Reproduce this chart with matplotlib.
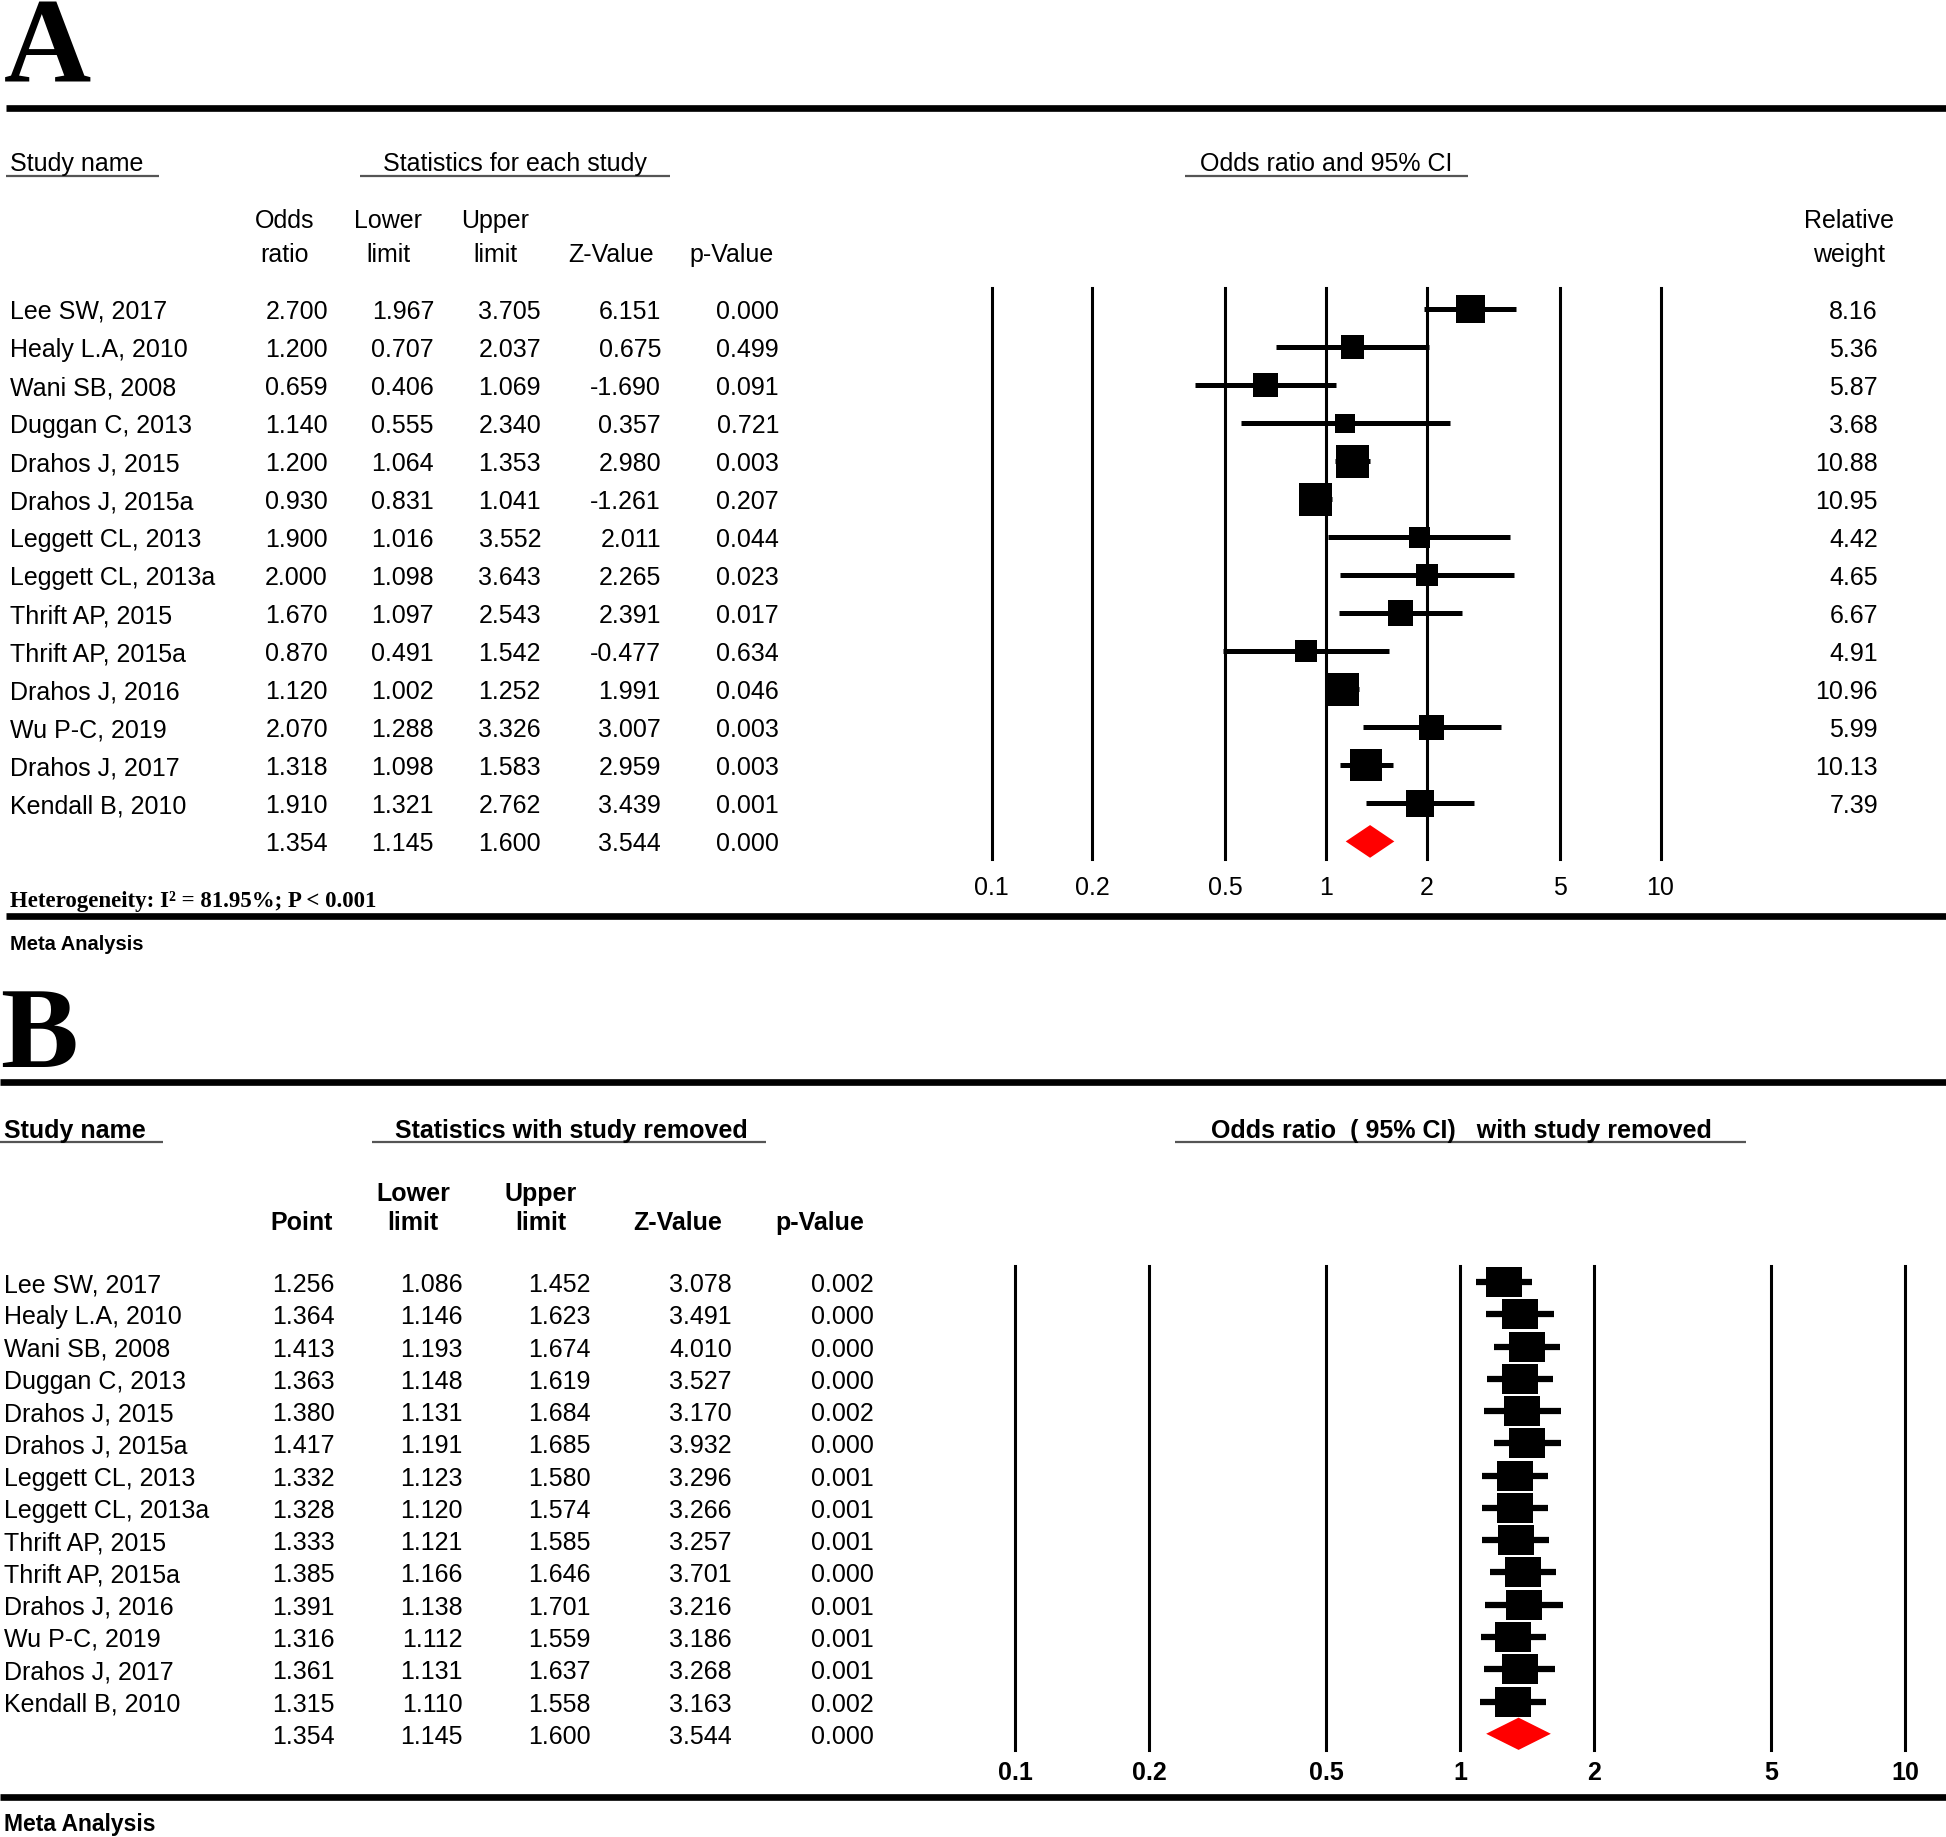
import matplotlib.pyplot as plt
import numpy as np

plt.rcParams['font.family'] = ['Liberation Sans', 'DejaVu Sans']

# ---- data: panel A (each study) ----
studies = ["Lee SW, 2017", "Healy L.A, 2010", "Wani SB, 2008", "Duggan C, 2013",
           "Drahos J, 2015", "Drahos J, 2015a", "Leggett CL, 2013", "Leggett CL, 2013a",
           "Thrift AP, 2015", "Thrift AP, 2015a", "Drahos J, 2016", "Wu P-C, 2019",
           "Drahos J, 2017", "Kendall B, 2010"]
or_a = [2.700, 1.200, 0.659, 1.140, 1.200, 0.930, 1.900, 2.000, 1.670, 0.870, 1.120, 2.070, 1.318, 1.910]
lo_a = [1.967, 0.707, 0.406, 0.555, 1.064, 0.831, 1.016, 1.098, 1.097, 0.491, 1.002, 1.288, 1.098, 1.321]
hi_a = [3.705, 2.037, 1.069, 2.340, 1.353, 1.041, 3.552, 3.643, 2.543, 1.542, 1.252, 3.326, 1.583, 2.762]
z_a = [6.151, 0.675, -1.690, 0.357, 2.980, -1.261, 2.011, 2.265, 2.391, -0.477, 1.991, 3.007, 2.959, 3.439]
p_a = [0.000, 0.499, 0.091, 0.721, 0.003, 0.207, 0.044, 0.023, 0.017, 0.634, 0.046, 0.003, 0.003, 0.001]
weight_a = [8.16, 5.36, 5.87, 3.68, 10.88, 10.95, 4.42, 4.65, 6.67, 4.91, 10.96, 5.99, 10.13, 7.39]

# pooled estimate (same in both panels)
pooled_or, pooled_lo, pooled_hi, pooled_z, pooled_p = 1.354, 1.145, 1.600, 3.544, 0.000

# ---- data: panel B (study removed) ----
pt_b = [1.256, 1.364, 1.413, 1.363, 1.380, 1.417, 1.332, 1.328, 1.333, 1.385, 1.391, 1.316, 1.361, 1.315]
lo_b = [1.086, 1.146, 1.193, 1.148, 1.131, 1.191, 1.123, 1.120, 1.121, 1.166, 1.138, 1.112, 1.131, 1.110]
hi_b = [1.452, 1.623, 1.674, 1.619, 1.684, 1.685, 1.580, 1.574, 1.585, 1.646, 1.701, 1.559, 1.637, 1.558]
z_b = [3.078, 3.491, 4.010, 3.527, 3.170, 3.932, 3.296, 3.266, 3.257, 3.701, 3.216, 3.186, 3.268, 3.163]
p_b = [0.002, 0.000, 0.000, 0.000, 0.002, 0.000, 0.001, 0.001, 0.001, 0.000, 0.001, 0.001, 0.001, 0.002]

tick_vals = [0.1, 0.2, 0.5, 1, 2, 5, 10]
tick_labels = ["0.1", "0.2", "0.5", "1", "2", "5", "10"]

W, H = 1946, 1837
fig = plt.figure(figsize=(W / 100, H / 100), dpi=100)

# background axes in pixel units for the table text and rules
bg = fig.add_axes([0, 0, 1, 1])
bg.set_xlim(0, W)
bg.set_ylim(H, 0)
bg.axis('off')

FS = 18
SERIF = 'Liberation Serif'
DY = 3  # va='center' sits a bit high for digits


def txt(x, y, s, **kw):
    kw.setdefault('fontsize', FS)
    kw.setdefault('va', 'center')
    bg.text(x, y + DY, s, **kw)


def rule(y, x0, x1, lw=4.8, color='black'):
    bg.plot([x0, x1], [y, y], color=color, lw=lw, solid_capstyle='butt')


def fmt(v):
    return f"{v:.3f}"


def forest_axes(x_left, x_right, y_top, y_bot, row0, step):
    ax = fig.add_axes([x_left / W, 1 - y_bot / H, (x_right - x_left) / W, (y_bot - y_top) / H])
    ax.set_xscale('log')
    ax.set_xlim(0.1, 10)
    ax.set_ylim((y_bot - row0) / step, (y_top - row0) / step)
    for s in ax.spines.values():
        s.set_visible(False)
    ax.set_yticks([])
    ax.minorticks_off()
    ax.patch.set_alpha(0)
    for t in tick_vals:
        ax.axvline(t, color='black', lw=2.2, zorder=1, clip_on=False)
    return ax


# =================== Panel A ===================
bg.text(4, 81, "A", family=SERIF, weight='bold', fontsize=87, va='baseline')
rule(108, 6, W)

txt(10, 161, "Study name")
rule(176, 6, 159, 1.6, '#555555')
txt(515, 161, "Statistics for each study", ha='center')
rule(176, 360, 670, 1.6, '#555555')
txt(1326, 161, "Odds ratio and 95% CI", ha='center')
rule(176, 1185, 1468, 1.6, '#555555')

hdr_a = [("Odds", "ratio", 285), ("Lower", "limit", 388), ("Upper", "limit", 495),
         ("", "Z-Value", 611), ("", "p-Value", 732), ("Relative", "weight", 1849)]
for top, bot, x in hdr_a:
    txt(x, 218, top, ha='center')
    txt(x, 252, bot, ha='center')

row0_a, step_a = 309, 38.03
cols_a = [or_a, lo_a, hi_a, z_a, p_a]
right_a = [328, 434, 541, 661, 779]
for i, name in enumerate(studies):
    y = row0_a + i * step_a
    txt(10, y, name)
    for col, xr in zip(cols_a, right_a):
        txt(xr, y, fmt(col[i]), ha='right')
    txt(1878, y, f"{weight_a[i]:.2f}", ha='right')
y = row0_a + len(studies) * step_a
for v, xr in zip([pooled_or, pooled_lo, pooled_hi, pooled_z, pooled_p], right_a):
    txt(xr, y, fmt(v), ha='right')

axA = forest_axes(991.6, 1660.5, 288, 859, row0_a, step_a)
rows = np.arange(len(studies))
n = len(studies)
axA.hlines(rows, lo_a, hi_a, color='black', lw=3.6, zorder=2)
axA.scatter(or_a, rows, marker='s', s=51.8 * np.array(weight_a), color='black', linewidths=0, zorder=3)
axA.fill([pooled_lo, pooled_or, pooled_hi, pooled_or], [n, n - 0.43, n, n + 0.43],
         color='#ff0000', lw=0, zorder=3)
axA.set_xticks(tick_vals, tick_labels)
axA.tick_params(axis='x', length=0, pad=12, labelsize=18)

txt(10, 899, "Heterogeneity: I\u00b2 = 81.95%; P < 0.001", family=SERIF, weight='bold', fontsize=16.5)
rule(916, 6, W)
txt(10, 941, "Meta Analysis", fontsize=14.5, weight='bold')

# =================== Panel B ===================
bg.text(0, 1067, "B", family=SERIF, weight='bold', fontsize=84, va='baseline')
rule(1082, 0, W)

txt(4, 1128, "Study name", weight='bold')
rule(1142, 0, 163, 1.6, '#555555')
txt(571, 1128, "Statistics with study removed", weight='bold', ha='center')
rule(1142, 372, 766, 1.6, '#555555')
txt(1461, 1128, "Odds ratio  ( 95% CI)   with study removed", weight='bold', ha='center')
rule(1142, 1175, 1746, 1.6, '#555555')

hdr_b = [("", "Point", 302), ("Lower", "limit", 413), ("Upper", "limit", 541),
         ("", "Z-Value", 678), ("", "p-Value", 820)]
for top, bot, x in hdr_b:
    txt(x, 1191, top, weight='bold', ha='center')
    txt(x, 1220, bot, weight='bold', ha='center')

row0_b, step_b = 1282, 32.27
cols_b = [pt_b, lo_b, hi_b, z_b, p_b]
right_b = [335, 463, 591, 732, 874]
for i, name in enumerate(studies):
    y = row0_b + i * step_b
    txt(4, y, name)
    for col, xr in zip(cols_b, right_b):
        txt(xr, y, fmt(col[i]), ha='right')
y = row0_b + len(studies) * step_b
for v, xr in zip([pooled_or, pooled_lo, pooled_hi, pooled_z, pooled_p], right_b):
    txt(xr, y, fmt(v), ha='right')

axB = forest_axes(1015, 1905, 1266, 1750, row0_b, step_b)
axB.hlines(rows, lo_b, hi_b, color='black', lw=4.5, zorder=2)
box = [(-1, -0.84), (1, -0.84), (1, 0.84), (-1, 0.84), (-1, -0.84)]
axB.scatter(pt_b, rows, marker=box, s=700, color='black', linewidths=0, zorder=3)
axB.fill([pooled_lo, pooled_or, pooled_hi, pooled_or], [n, n - 0.5, n, n + 0.5],
         color='#ff0000', lw=0, zorder=3)
axB.set_xticks(tick_vals, tick_labels)
axB.tick_params(axis='x', length=0, pad=8, labelsize=18)
for lab in axB.get_xticklabels():
    lab.set_fontweight('bold')

rule(1797, 0, W)
txt(4, 1822, "Meta Analysis", fontsize=16.5, weight='bold')

fig.savefig("out.png", dpi=100, facecolor='white')
